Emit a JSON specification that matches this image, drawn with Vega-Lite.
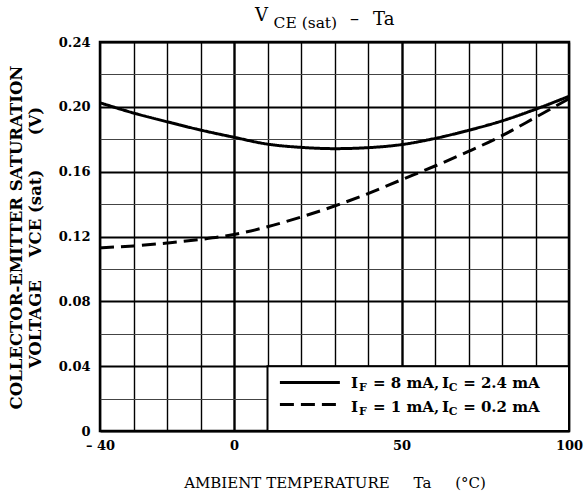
{
  "$schema": "https://vega.github.io/schema/vega-lite/v6.json",
  "width": 469,
  "height": 389,
  "autosize": {"type": "none"},
  "padding": {"left": 100, "top": 42, "right": 18, "bottom": 68},
  "background": "white",
  "config": {
    "view": {"stroke": "black", "strokeWidth": 2.5},
    "font": "DejaVu Serif",
    "text": {"font": "DejaVu Serif", "color": "black"}
  },
  "datasets": {
    "curves": [
      {"cond": "IF = 8 mA, IC = 2.4 mA", "x": -40, "y": 0.2025},
      {"cond": "IF = 8 mA, IC = 2.4 mA", "x": -30, "y": 0.1962},
      {"cond": "IF = 8 mA, IC = 2.4 mA", "x": -20, "y": 0.1908},
      {"cond": "IF = 8 mA, IC = 2.4 mA", "x": -10, "y": 0.1857},
      {"cond": "IF = 8 mA, IC = 2.4 mA", "x": 0, "y": 0.1812},
      {"cond": "IF = 8 mA, IC = 2.4 mA", "x": 10, "y": 0.1770},
      {"cond": "IF = 8 mA, IC = 2.4 mA", "x": 20, "y": 0.1750},
      {"cond": "IF = 8 mA, IC = 2.4 mA", "x": 30, "y": 0.1742},
      {"cond": "IF = 8 mA, IC = 2.4 mA", "x": 40, "y": 0.1748},
      {"cond": "IF = 8 mA, IC = 2.4 mA", "x": 50, "y": 0.1767},
      {"cond": "IF = 8 mA, IC = 2.4 mA", "x": 60, "y": 0.1805},
      {"cond": "IF = 8 mA, IC = 2.4 mA", "x": 70, "y": 0.1855},
      {"cond": "IF = 8 mA, IC = 2.4 mA", "x": 80, "y": 0.1913},
      {"cond": "IF = 8 mA, IC = 2.4 mA", "x": 90, "y": 0.1985},
      {"cond": "IF = 8 mA, IC = 2.4 mA", "x": 100, "y": 0.2065},
      {"cond": "IF = 1 mA, IC = 0.2 mA", "x": -40, "y": 0.1130},
      {"cond": "IF = 1 mA, IC = 0.2 mA", "x": -30, "y": 0.1142},
      {"cond": "IF = 1 mA, IC = 0.2 mA", "x": -20, "y": 0.1160},
      {"cond": "IF = 1 mA, IC = 0.2 mA", "x": -10, "y": 0.1182},
      {"cond": "IF = 1 mA, IC = 0.2 mA", "x": 0, "y": 0.1212},
      {"cond": "IF = 1 mA, IC = 0.2 mA", "x": 10, "y": 0.1260},
      {"cond": "IF = 1 mA, IC = 0.2 mA", "x": 20, "y": 0.1320},
      {"cond": "IF = 1 mA, IC = 0.2 mA", "x": 30, "y": 0.1388},
      {"cond": "IF = 1 mA, IC = 0.2 mA", "x": 40, "y": 0.1465},
      {"cond": "IF = 1 mA, IC = 0.2 mA", "x": 50, "y": 0.1550},
      {"cond": "IF = 1 mA, IC = 0.2 mA", "x": 60, "y": 0.1635},
      {"cond": "IF = 1 mA, IC = 0.2 mA", "x": 70, "y": 0.1725},
      {"cond": "IF = 1 mA, IC = 0.2 mA", "x": 80, "y": 0.1822},
      {"cond": "IF = 1 mA, IC = 0.2 mA", "x": 90, "y": 0.1935},
      {"cond": "IF = 1 mA, IC = 0.2 mA", "x": 100, "y": 0.2050}
    ],
    "keyBox": [{"x": 10, "x2": 100, "y": 0, "y2": 0.04}],
    "keyLines": [
      {"cond": "IF = 8 mA, IC = 2.4 mA", "x": 13.7, "x2": 31.6, "y": 0.0300},
      {"cond": "IF = 1 mA, IC = 0.2 mA", "x": 13.7, "x2": 31.6, "y": 0.0164}
    ],
    "keyText": [
      {"x": 34.9, "y": 0.0267, "text": "I"},
      {"x": 41.5, "y": 0.0267, "text": "= 8 mA,"},
      {"x": 62.1, "y": 0.0267, "text": "I"},
      {"x": 68.4, "y": 0.0267, "text": "= 2.4 mA"},
      {"x": 34.9, "y": 0.0117, "text": "I"},
      {"x": 41.5, "y": 0.0117, "text": "= 1 mA,"},
      {"x": 62.1, "y": 0.0117, "text": "I"},
      {"x": 68.4, "y": 0.0117, "text": "= 0.2 mA"}
    ],
    "keySub": [
      {"x": 37.3, "y": 0.0244, "text": "F"},
      {"x": 64.1, "y": 0.0244, "text": "C"},
      {"x": 37.3, "y": 0.0101, "text": "F"},
      {"x": 64.1, "y": 0.0101, "text": "C"}
    ],
    "titleMain": [
      {"x": 6.3, "y": 0.2527, "text": "V"},
      {"x": 34.6, "y": 0.2503, "text": "–"},
      {"x": 41.5, "y": 0.2503, "text": "Ta"}
    ],
    "titleSub": [
      {"x": 11.8, "y": 0.2484, "text": "CE (sat)"}
    ]
  },
  "encoding": {
    "x": {
      "field": "x",
      "type": "quantitative",
      "scale": {"domain": [-40, 100], "nice": false, "zero": false},
      "axis": {
        "values": [-40, -30, -20, -10, 0, 10, 20, 30, 40, 50, 60, 70, 80, 90, 100],
        "labelExpr": "datum.value === -40 ? '– 40' : (datum.value === 0 || datum.value === 50 || datum.value === 100 ? datum.label : '')",
        "domain": false,
        "ticks": false,
        "grid": true,
        "gridColor": "black",
        "gridOpacity": 1,
        "gridWidth": {"condition": {"test": "datum.value === 0 || datum.value === 50", "value": 2.4}, "value": 1.4},
        "labelFont": "DejaVu Serif",
        "labelFontWeight": "bold",
        "labelFontSize": 13,
        "labelColor": "black",
        "labelPadding": 8,
        "labelFlush": false,
        "labelOverlap": false,
        "title": "AMBIENT TEMPERATURE\u00a0\u00a0\u00a0\u00a0\u00a0Ta\u00a0\u00a0\u00a0\u00a0\u00a0(°C)",
        "titleFont": "DejaVu Serif",
        "titleFontWeight": "normal",
        "titleFontSize": 15,
        "titleColor": "black",
        "titleY": 56,
        "titleBaseline": "alphabetic",
        "titleAlign": "center"
      }
    },
    "y": {
      "field": "y",
      "type": "quantitative",
      "scale": {"domain": [0, 0.24], "nice": false, "zero": false},
      "axis": {
        "values": [0, 0.02, 0.04, 0.06, 0.08, 0.1, 0.12, 0.14, 0.16, 0.18, 0.2, 0.22, 0.24],
        "labelExpr": "round(datum.value * 100) % 4 === 0 ? (datum.value === 0 ? '0' : format(datum.value, '.2f')) : ''",
        "domain": false,
        "ticks": false,
        "grid": true,
        "gridColor": {"condition": {"test": "round(datum.value * 100) % 4 === 0", "value": "black"}, "value": "#444444"},
        "gridOpacity": 1,
        "gridWidth": {"condition": {"test": "round(datum.value * 100) % 4 === 0", "value": 2.2}, "value": 1.2},
        "labelFont": "DejaVu Serif",
        "labelFontWeight": "bold",
        "labelFontSize": 13,
        "labelColor": "black",
        "labelPadding": 10,
        "labelFlush": false,
        "labelOverlap": false,
        "title": ["COLLECTOR-EMITTER SATURATION", "VOLTAGE\u00a0\u00a0\u00a0\u00a0VCE (sat)\u00a0\u00a0\u00a0\u00a0\u00a0\u00a0(V)"],
        "titleFont": "DejaVu Serif",
        "titleFontWeight": "bold",
        "titleFontSize": 16.5,
        "titleColor": "black",
        "titleAngle": -90,
        "titleX": -92,
        "titleY": 195,
        "titleBaseline": "top",
        "titleAlign": "center",
        "titleLineHeight": 19
      }
    }
  },
  "layer": [
    {
      "data": {"name": "keyBox"},
      "mark": {"type": "rect", "fill": "white", "stroke": "black", "strokeWidth": 2},
      "encoding": {"x2": {"field": "x2"}, "y2": {"field": "y2"}}
    },
    {
      "data": {"name": "curves"},
      "mark": {"type": "line", "color": "black", "strokeWidth": 3, "interpolate": "monotone"},
      "encoding": {
        "strokeDash": {
          "field": "cond",
          "type": "nominal",
          "scale": {"domain": ["IF = 8 mA, IC = 2.4 mA", "IF = 1 mA, IC = 0.2 mA"], "range": [[1, 0], [14, 7]]},
          "legend": null
        }
      }
    },
    {
      "data": {"name": "keyLines"},
      "mark": {"type": "rule", "color": "black", "strokeWidth": 3},
      "encoding": {
        "x2": {"field": "x2"},
        "strokeDash": {
          "field": "cond",
          "type": "nominal",
          "scale": {"domain": ["IF = 8 mA, IC = 2.4 mA", "IF = 1 mA, IC = 0.2 mA"], "range": [[1, 0], [14, 7]]},
          "legend": null
        }
      }
    },
    {
      "data": {"name": "keyText"},
      "mark": {"type": "text", "align": "left", "baseline": "alphabetic", "fontSize": 15, "fontWeight": "bold"},
      "encoding": {"text": {"field": "text"}}
    },
    {
      "data": {"name": "keySub"},
      "mark": {"type": "text", "align": "left", "baseline": "alphabetic", "fontSize": 11, "fontWeight": "bold"},
      "encoding": {"text": {"field": "text"}}
    },
    {
      "data": {"name": "titleMain"},
      "mark": {"type": "text", "align": "left", "baseline": "alphabetic", "fontSize": 18},
      "encoding": {"text": {"field": "text"}}
    },
    {
      "data": {"name": "titleSub"},
      "mark": {"type": "text", "align": "left", "baseline": "alphabetic", "fontSize": 15.5},
      "encoding": {"text": {"field": "text"}}
    }
  ]
}
